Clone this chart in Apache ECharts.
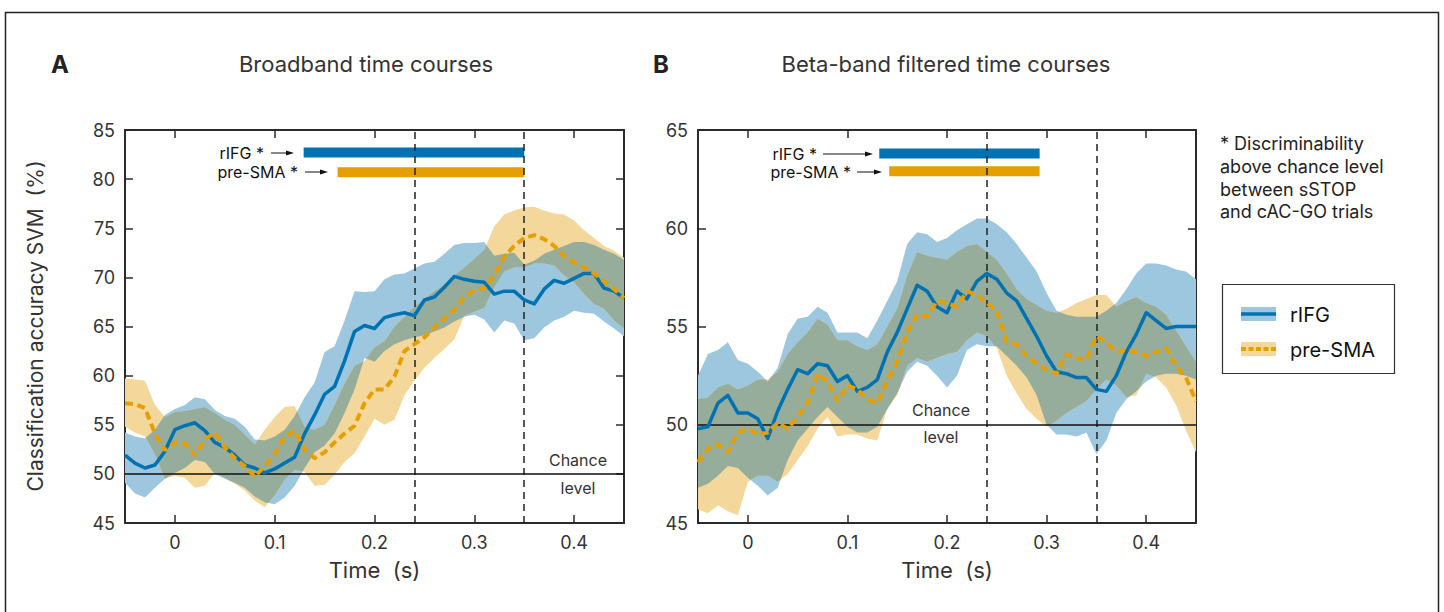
<!DOCTYPE html>
<html>
<head>
<meta charset="utf-8">
<script src="https://cdn.jsdelivr.net/npm/echarts@6/dist/echarts.min.js"></script>
<style>
    html, body { margin: 0; padding: 0; background: #fff; }
    #chart { width: 1444px; height: 612px; }
</style>
</head>
<body>
<div id="chart"></div>
<script>
// time axis (s)
const times = [-0.05, -0.04, -0.03, -0.02, -0.01, 0, 0.01, 0.02, 0.03, 0.04,
    0.05, 0.06, 0.07, 0.08, 0.09, 0.1, 0.11, 0.12, 0.13, 0.14,
    0.15, 0.16, 0.17, 0.18, 0.19, 0.2, 0.21, 0.22, 0.23, 0.24,
    0.25, 0.26, 0.27, 0.28, 0.29, 0.3, 0.31, 0.32, 0.33, 0.34,
    0.35, 0.36, 0.37, 0.38, 0.39, 0.4, 0.41, 0.42, 0.43, 0.44, 0.45]
const xTicks = [0, 0.1, 0.2, 0.3, 0.4]
const dashedTimes = [0.244, 0.35]
const chanceLevel = 50

// A: broadband
const rifgA = [51.9, 51.1, 50.6, 50.9, 52.3, 54.5, 54.9, 55.2, 54.4, 53.2,
    52.7, 51.9, 50.9, 50.6, 50.1, 50.5, 51.1, 51.7, 54.1, 56.0,
    58.1, 58.9, 61.5, 64.5, 65.1, 64.8, 65.9, 66.2, 66.4, 66.1,
    67.7, 68.0, 69.0, 70.1, 69.8, 69.6, 69.5, 68.3, 68.6, 68.6,
    67.7, 67.3, 68.8, 69.7, 69.4, 69.9, 70.4, 70.4, 68.9, 68.6, 67.9]
const rifgAHi = [54.2, 53.8, 53.6, 54.5, 56.0, 56.6, 57.0, 57.8, 57.6, 56.5,
    55.9, 55.6, 54.8, 53.5, 53.4, 53.8, 54.5, 55.9, 57.8, 59.3,
    62.4, 63.0, 65.6, 68.6, 68.5, 68.6, 69.8, 70.3, 70.4, 70.9,
    71.4, 71.6, 72.4, 73.3, 73.5, 73.5, 73.6, 72.2, 72.4, 72.5,
    71.3, 71.7, 72.4, 72.8, 73.2, 73.6, 73.6, 73.3, 72.8, 72.4, 71.8]
const rifgALo = [49.1, 48.0, 47.6, 48.6, 49.5, 50.1, 50.6, 51.4, 51.2, 50.0,
    49.5, 49.1, 48.6, 47.7, 47.1, 46.9, 47.6, 48.8, 50.6, 52.2,
    52.9, 54.1, 56.2, 58.6, 61.8, 61.4, 62.5, 63.2, 63.6, 63.9,
    64.1, 64.5, 64.9, 65.5, 66.0, 66.2, 65.7, 64.4, 65.6, 65.3,
    63.6, 63.8, 64.9, 65.6, 66.0, 66.6, 66.4, 66.3, 65.5, 64.8, 64.0]
const presmaA = [57.2, 57.1, 56.7, 54.1, 52.4, 53.2, 53.1, 51.9, 53.5, 54.2,
    52.7, 51.6, 50.8, 49.7, 50.8, 52.0, 53.8, 54.4, 52.5, 51.6,
    52.2, 53.2, 54.1, 54.9, 57.2, 58.6, 58.6, 59.9, 62.5, 63.2,
    63.9, 64.9, 65.8, 66.7, 68.0, 68.7, 68.9, 70.2, 72.1, 73.2,
    74.0, 74.3, 73.9, 73.2, 72.2, 71.5, 71.0, 70.4, 69.6, 68.8, 67.9]
const presmaAHi = [59.7, 59.6, 59.5, 57.0, 55.8, 56.3, 56.4, 56.6, 56.8, 56.2,
    55.5, 55.0, 54.0, 53.0, 54.5, 55.8, 56.8, 56.9, 54.8, 54.5,
    55.0, 57.0, 59.2, 61.0, 61.5, 62.9, 63.5, 65.0, 66.0, 67.0,
    67.8, 68.6, 69.3, 70.2, 71.0, 71.9, 72.8, 75.2, 76.4, 76.8,
    77.1, 77.2, 76.8, 76.5, 76.4, 75.8, 74.8, 74.0, 73.2, 72.7, 72.0]
const presmaALo = [54.8, 54.2, 53.8, 52.0, 49.5, 49.8, 49.6, 48.6, 48.8, 50.1,
    49.6, 49.0, 48.3, 47.3, 46.6, 47.8, 49.4, 50.4, 50.2, 48.8,
    48.9, 49.9, 51.2, 52.1, 53.8, 55.6, 55.0, 55.5, 58.0, 59.5,
    60.8, 61.8, 62.7, 63.7, 66.1, 66.5, 66.9, 69.0, 70.6, 71.0,
    71.0, 71.4, 71.4, 71.2, 70.2, 69.5, 68.3, 67.3, 66.8, 65.6, 64.8]

// B: beta-band
const rifgB = [49.8, 49.9, 51.1, 51.5, 50.6, 50.6, 50.3, 49.3, 50.7, 51.8,
    52.8, 52.6, 53.1, 53.0, 52.2, 52.5, 51.7, 51.9, 52.3, 53.7,
    54.7, 55.9, 57.1, 56.8, 56.0, 55.7, 56.8, 56.4, 57.3, 57.7,
    57.4, 56.7, 56.3, 55.4, 54.5, 53.5, 52.7, 52.6, 52.4, 52.4,
    51.8, 51.7, 52.5, 53.7, 54.6, 55.7, 55.3, 54.9, 55.0, 55.0, 55.0]
const rifgBHi = [52.5, 53.6, 53.8, 54.2, 53.3, 53.1, 52.7, 52.2, 52.9, 54.6,
    55.4, 55.5, 56.0, 55.7, 54.7, 54.7, 54.7, 54.4, 55.3, 56.3,
    57.3, 59.2, 59.8, 59.7, 59.3, 59.5, 59.9, 60.2, 60.5, 60.5,
    60.2, 59.8, 59.2, 58.5, 57.8, 56.7, 55.8, 55.6, 55.5, 55.5,
    55.5, 55.8, 56.2, 56.9, 57.7, 58.2, 58.2, 58.1, 57.9, 57.8, 57.4]
const rifgBLo = [46.8, 47.0, 47.4, 47.9, 47.8, 47.3, 46.9, 46.4, 46.8, 48.2,
    49.2, 49.8, 50.4, 50.9, 50.4, 49.9, 49.6, 49.6, 49.9, 50.8,
    51.6, 52.7, 53.2, 53.0, 52.5, 51.9, 52.5, 53.8, 54.1, 54.0,
    54.0, 53.5, 53.0, 52.4, 51.5, 50.0, 49.5, 49.5, 49.4, 49.6,
    48.5, 49.2, 50.6, 51.3, 51.7, 52.2, 52.5, 52.6, 52.6, 52.5, 52.3]
const presmaB = [48.1, 48.8, 49.0, 48.6, 49.6, 49.8, 49.5, 49.6, 50.1, 49.8,
    50.4, 51.1, 52.6, 52.2, 51.2, 52.0, 51.8, 51.3, 51.1, 52.2,
    53.2, 54.7, 55.6, 55.5, 56.3, 56.2, 56.0, 56.8, 56.6, 56.2,
    55.8, 54.2, 54.1, 53.5, 53.1, 52.8, 52.6, 53.6, 53.4, 53.3,
    54.5, 54.2, 53.7, 53.8, 53.7, 53.5, 53.7, 53.9, 53.0, 52.4, 51.2]
const presmaBHi = [51.3, 51.4, 51.9, 52.1, 51.8, 52.0, 52.3, 52.3, 52.7, 53.6,
    54.2, 54.7, 55.4, 55.1, 54.3, 54.3, 54.0, 53.8, 54.1, 55.0,
    55.9, 57.6, 58.8, 58.6, 58.5, 58.4, 58.8, 59.1, 59.2, 58.8,
    58.4, 57.7, 56.9, 56.4, 56.1, 55.8, 55.7, 55.9, 56.2, 56.4,
    56.6, 56.6, 56.0, 56.3, 56.5, 56.2, 56.0, 55.6, 54.8, 54.0, 53.2]
const presmaBLo = [45.7, 45.5, 45.9, 45.6, 45.4, 47.1, 47.4, 47.4, 47.1, 47.5,
    48.2, 48.9, 49.8, 50.4, 49.4, 49.5, 49.5, 49.3, 49.2, 50.8,
    51.5, 53.0, 53.4, 53.2, 53.4, 53.6, 53.7, 54.3, 54.7, 54.5,
    53.9, 52.5, 51.6, 50.8, 50.3, 49.9, 50.2, 50.6, 50.9, 51.2,
    51.8, 52.3, 52.0, 51.4, 51.5, 52.6, 52.4, 51.9, 51.0, 49.7, 48.6]

// significance bars: [start, end] and height on the y axis
const sigRifgA = [0.129, 0.35], sigRifgAY = 82.7
const sigPresmaA = [0.163, 0.35], sigPresmaAY = 80.7
const sigRifgB = [0.132, 0.293], sigRifgBY = 63.8
const sigPresmaB = [0.142, 0.293], sigPresmaBY = 62.9

const BLUE = '#0072B2'
const ORANGE = '#E69F00'
const BAND_BLUE = '#9DC7DF'
const BAND_ORANGE = '#F4D79A'
const BAND_MIX = '#97AD9C'
const INK = '#2b2b2b'
const FONT = 'Inter'

// overlap region of two bands (exact intersection of the two polylines)
function overlapBand(aLo, aHi, bLo, bHi) {
    const out = { t: [], lo: [], hi: [] }
    const n = times.length
    const at = (i, f) => {
        const j = Math.min(i + 1, n - 1)
        const L = g => g[i] + f * (g[j] - g[i])
        return [times[i] + f * (times[j] - times[i]), Math.max(L(aLo), L(bLo)), Math.min(L(aHi), L(bHi))]
    }
    const add = p => {
        out.t.push(p[0])
        out.lo.push(p[1])
        out.hi.push(Math.max(p[1], p[2]))
    }
    for (let i = 0; i < n - 1; i++) {
        const fs = [0, 1]
        ;[[aLo, bLo], [aHi, bHi]].forEach(([g, h]) => {
            const d0 = g[i] - h[i], d1 = g[i + 1] - h[i + 1]
            if (d0 * d1 < 0) fs.push(d0 / (d0 - d1))
        })
        fs.sort((a, b) => a - b)
        for (let k = 0; k < fs.length - 1; k++) {
            add(at(i, fs[k]))
            const p0 = at(i, fs[k]), p1 = at(i, fs[k + 1])
            const d0 = p0[2] - p0[1], d1 = p1[2] - p1[1]
            if (d0 * d1 < 0) add(at(i, fs[k] + (fs[k + 1] - fs[k]) * d0 / (d0 - d1)))
        }
    }
    add(at(n - 1, 0))
    return out
}

function band(xi, yi, ts, lo, hi, color) {
    return {
        type: 'custom',
        xAxisIndex: xi,
        yAxisIndex: yi,
        z: 1,
        silent: true,
        data: ts.map((t, i) => [t, lo[i], hi[i]]),
        renderItem: function (params, api) {
            if (params.dataIndex !== 0) return null
            const pts = []
            for (let i = 0; i < ts.length; i++) pts.push(api.coord([ts[i], hi[i]]))
            for (let i = ts.length - 1; i >= 0; i--) pts.push(api.coord([ts[i], lo[i]]))
            return { type: 'polygon', shape: { points: pts }, style: { fill: color } }
        },
    }
}

function curve(xi, yi, values, color, dashed) {
    return {
        type: 'line',
        xAxisIndex: xi,
        yAxisIndex: yi,
        z: dashed ? 7 : 6,
        showSymbol: false,
        silent: true,
        data: times.map((t, i) => [t, values[i]]),
        lineStyle: dashed
            ? { color: color, width: 4, type: [8, 4.5], cap: 'butt' }
            : { color: color, width: 3.5, join: 'round' },
    }
}

function sigBar(xi, yi, span, y, color) {
    return {
        type: 'line',
        xAxisIndex: xi,
        yAxisIndex: yi,
        z: 4,
        showSymbol: false,
        silent: true,
        data: [[span[0], y], [span[1], y]],
        lineStyle: { color: color, width: 10, cap: 'butt' },
    }
}

function guides(xi, yi) {
    const dash = { type: [7, 5], color: '#222', width: 1.5 }
    return {
        type: 'line',
        xAxisIndex: xi,
        yAxisIndex: yi,
        z: 5,
        data: [],
        markLine: {
            silent: true,
            animation: false,
            symbol: ['none', 'none'],
            label: { show: false },
            data: [
                ...dashedTimes.map(t => ({ xAxis: t, lineStyle: dash })),
                { yAxis: chanceLevel, lineStyle: { type: 'solid', color: '#111', width: 1.5 } },
            ],
        },
    }
}

function panel(xi, yi, rLo, rHi, pLo, pHi, r, p, sigs) {
    const ov = overlapBand(rLo, rHi, pLo, pHi)
    return [
        band(xi, yi, times, rLo, rHi, BAND_BLUE),
        band(xi, yi, times, pLo, pHi, BAND_ORANGE),
        band(xi, yi, ov.t, ov.lo, ov.hi, BAND_MIX),
        guides(xi, yi),
        sigBar(xi, yi, sigs[0], sigs[1], BLUE),
        sigBar(xi, yi, sigs[2], sigs[3], ORANGE),
        curve(xi, yi, r, BLUE, false),
        curve(xi, yi, p, ORANGE, true),
    ]
}

const frame = { show: true, onZero: false, lineStyle: { color: INK, width: 2 } }
const tick = { show: true, inside: true, length: 8, lineStyle: { color: INK, width: 1.5 } }
const tickLabel = { fontSize: 18, fontFamily: FONT, color: '#333' }

function xPair(grid) {
    const base = { type: 'value', gridIndex: grid, min: -0.05, max: 0.45, splitLine: { show: false }, axisLine: frame }
    return [
        Object.assign({}, base, {
            position: 'bottom',
            axisTick: Object.assign({ customValues: xTicks }, tick),
            axisLabel: Object.assign({ customValues: xTicks, margin: 10, formatter: v => String(Math.round(v * 10) / 10) }, tickLabel),
            name: 'Time  (s)',
            nameLocation: 'middle',
            nameGap: 36,
            nameTextStyle: { fontSize: 22, fontFamily: FONT, color: '#333' },
        }),
        Object.assign({}, base, {
            position: 'top',
            axisTick: Object.assign({ customValues: xTicks }, tick),
            axisLabel: { show: false },
        }),
    ]
}

function yPair(grid, min, max) {
    const base = { type: 'value', gridIndex: grid, min: min, max: max, interval: 5, splitLine: { show: false }, axisLine: frame, axisTick: tick }
    return [
        Object.assign({}, base, { position: 'left', axisLabel: Object.assign({ margin: 10 }, tickLabel) }),
        Object.assign({}, base, { position: 'right', axisLabel: { show: false } }),
    ]
}

function text(x, y, str, size, extra) {
    return {
        type: 'text', x: x, y: y, z: 100, silent: true,
        style: Object.assign({ text: str, fontSize: size, fontFamily: FONT, fill: '#333', align: 'left', verticalAlign: 'middle' }, extra || {}),
    }
}

function arrow(x1, x2, y) {
    return [
        { type: 'line', z: 100, silent: true, shape: { x1: x1, y1: y, x2: x2 - 5, y2: y }, style: { stroke: '#111', lineWidth: 1 } },
        { type: 'polygon', z: 100, silent: true, shape: { points: [[x2, y], [x2 - 8, y - 2.5], [x2 - 8, y + 2.5]] }, style: { fill: '#111' } },
    ]
}

const sigLabel = { align: 'right', fill: '#111' }

const graphics = [
    { type: 'rect', z: 100, silent: true, shape: { x: 5.5, y: 12.5, width: 1433, height: 640 }, style: { fill: 'none', stroke: '#222', lineWidth: 1.5 } },
    text(60, 64, 'A', 24, { fontWeight: 'bold', fill: '#222', align: 'center' }),
    text(661, 64, 'B', 24, { fontWeight: 'bold', fill: '#222', align: 'center' }),
    text(366, 64, 'Broadband time courses', 22, { align: 'center' }),
    text(946, 64, 'Beta-band filtered time courses', 22, { align: 'center' }),
    Object.assign(text(35, 326, 'Classification accuracy SVM  (%)', 21, { align: 'center' }), { rotation: Math.PI / 2 }),
    text(578, 460, 'Chance', 16, { align: 'center' }),
    text(578, 488, 'level', 16, { align: 'center' }),
    text(941, 410, 'Chance', 16, { align: 'center' }),
    text(941, 437, 'level', 16, { align: 'center' }),
    text(264, 153, 'rIFG *', 16, sigLabel),
    ...arrow(271, 294, 153),
    text(298, 172, 'pre-SMA *', 16, sigLabel),
    ...arrow(305, 328, 172),
    text(817, 154, 'rIFG *', 16, sigLabel),
    ...arrow(823, 873, 154),
    text(851, 172, 'pre-SMA *', 16, sigLabel),
    ...arrow(857, 882, 172),
    text(1220, 143, '* Discriminability', 18, { fill: '#222' }),
    text(1220, 166, 'above chance level', 18, { fill: '#222' }),
    text(1220, 189, 'between sSTOP', 18, { fill: '#222' }),
    text(1220, 211, 'and cAC-GO trials', 18, { fill: '#222' }),
    { type: 'rect', z: 100, silent: true, shape: { x: 1222.5, y: 284.5, width: 172, height: 89 }, style: { fill: '#fff', stroke: '#333', lineWidth: 1.2 } },
    { type: 'rect', z: 101, silent: true, shape: { x: 1241, y: 307, width: 35, height: 14 }, style: { fill: BAND_BLUE } },
    { type: 'line', z: 102, silent: true, shape: { x1: 1241, y1: 314, x2: 1276, y2: 314 }, style: { stroke: BLUE, lineWidth: 3.5 } },
    { type: 'rect', z: 101, silent: true, shape: { x: 1241, y: 342, width: 35, height: 14 }, style: { fill: BAND_ORANGE } },
    { type: 'line', z: 102, silent: true, shape: { x1: 1241, y1: 349, x2: 1276, y2: 349 }, style: { stroke: ORANGE, lineWidth: 4, lineDash: [5, 2.5] } },
    Object.assign(text(1290, 315, 'rIFG', 20, { fill: '#111' }), { z: 102 }),
    Object.assign(text(1290, 350, 'pre-SMA', 20, { fill: '#111' }), { z: 102 }),
]

const option = {
    animation: false,
    backgroundColor: '#fff',
    textStyle: { fontFamily: FONT },
    grid: [
        { left: 125, right: 820, top: 130, bottom: 89 },
        { left: 698, right: 248, top: 130, bottom: 89 },
    ],
    xAxis: [...xPair(0), ...xPair(1)],
    yAxis: [...yPair(0, 45, 85), ...yPair(1, 45, 65)],
    series: [
        ...panel(0, 0, rifgALo, rifgAHi, presmaALo, presmaAHi, rifgA, presmaA,
            [sigRifgA, sigRifgAY, sigPresmaA, sigPresmaAY]),
        ...panel(2, 2, rifgBLo, rifgBHi, presmaBLo, presmaBHi, rifgB, presmaB,
            [sigRifgB, sigRifgBY, sigPresmaB, sigPresmaBY]),
    ],
    graphic: graphics,
}

const chart = echarts.init(document.getElementById('chart'), null, { renderer: 'svg' })
chart.setOption(option)
</script>
</body>
</html>
